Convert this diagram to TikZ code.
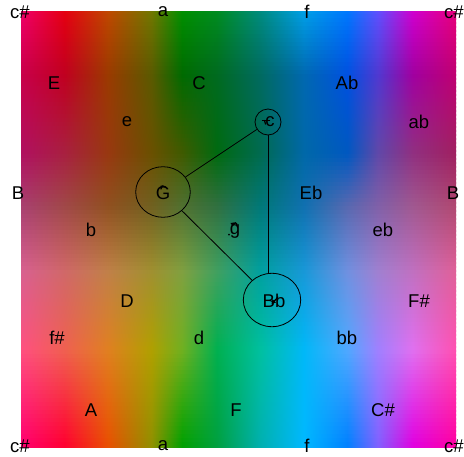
\documentclass[tikz,border=0pt]{standalone}
\usepackage{fontspec}
\setmainfont{Liberation Sans}
\usetikzlibrary{shapes.geometric,arrows.meta}
\makeatletter
\newcount\bgcol
\newcommand\bgrowdef[2]{\bgcol=0 \def\bgrow{#1}\@for\bgh:=#2\do{\edef\bgtmp{\noexpand\definecolor{r\bgrow c\the\bgcol}{HTML}{\bgh}}\bgtmp\advance\bgcol by 1 }}
\makeatother
\bgrowdef{0}{F0006A,E60010,C04800,707800,009000,008C20,008C80,00A0E8,0078FF,6050FF,D000D0,E8007A}
\bgrowdef{1}{C8004A,C00020,9A3A00,5A5A00,006A00,006A20,006A60,0068B0,0050E0,5038D0,A000A0,C00070}
\bgrowdef{2}{B01060,A82040,983810,6A5000,405A00,006A10,006A50,0068A8,0058C0,6048A8,903080,A02060}
\bgrowdef{3}{A84070,A04848,905020,706020,507030,307040,007878,1070B0,5868B0,8060A8,A05890,B04870}
\bgrowdef{4}{D86090,D06868,C08048,A09030,80A040,40A060,00A0A0,1898D8,7090E0,A080D0,C070C0,E06098}
\bgrowdef{5}{FF5080,F06050,E08020,B0A000,70B020,00B050,00C0A0,00B8F8,50A8FF,A080FF,E070F0,FF50B0}
\bgrowdef{6}{FF0070,FF0030,E85000,909000,00A000,00A040,00B0B0,00B8FF,0080FF,8060FF,E000E0,FF00A0}
\newcommand\mixcols{%
  \colorlet{s0}{r\ka c0!\pp!r\kb c0}\colorlet{s1}{r\ka c1!\pp!r\kb c1}%
  \colorlet{s2}{r\ka c2!\pp!r\kb c2}\colorlet{s3}{r\ka c3!\pp!r\kb c3}%
  \colorlet{s4}{r\ka c4!\pp!r\kb c4}\colorlet{s5}{r\ka c5!\pp!r\kb c5}%
  \colorlet{s6}{r\ka c6!\pp!r\kb c6}\colorlet{s7}{r\ka c7!\pp!r\kb c7}%
  \colorlet{s8}{r\ka c8!\pp!r\kb c8}\colorlet{s9}{r\ka c9!\pp!r\kb c9}%
  \colorlet{s10}{r\ka c10!\pp!r\kb c10}\colorlet{s11}{r\ka c11!\pp!r\kb c11}}
\newcommand\stripshade[1]{\pgfdeclarehorizontalshading{strip#1}{100bp}{color(0bp)=(s0); color(25bp)=(s0); color(30bp)=(s1); color(35bp)=(s2); color(40bp)=(s3); color(43.5bp)=(s4); color(47.5bp)=(s5); color(52.5bp)=(s6); color(57.5bp)=(s7); color(62.5bp)=(s8); color(66bp)=(s9); color(70bp)=(s10); color(75bp)=(s11); color(100bp)=(s11)}}
\tikzset{
  lbl/.style={font=\fontsize{18.5}{22}\selectfont, inner sep=0pt},
  ring/.style={draw, ellipse, line width=0.8pt, inner sep=0pt},
  conn/.style={line width=0.8pt},
  tick/.style={line width=1.3pt, line cap=round}
}
\begin{document}
\begin{tikzpicture}[x=1pt,y=-1pt]
\useasboundingbox (0,0) rectangle (464,456);
% background
\foreach \i in {0,...,108}{
  \pgfmathsetmacro\yc{11+(\i+0.5)*4}
  \pgfmathtruncatemacro\ka{(\yc>76.4)+(\yc>154.9)+(\yc>207.2)+(\yc>272.6)+(\yc>351.1)}
  \pgfmathtruncatemacro\kb{\ka+1}
  \pgfmathsetmacro\ya{{11,76.4,154.9,207.2,272.6,351.1,447}[\ka]}
  \pgfmathsetmacro\yb{{11,76.4,154.9,207.2,272.6,351.1,447}[\kb]}
  \pgfmathsetmacro\pp{100*(\yb-\yc)/(\yb-\ya)}
  \pgfmathsetmacro\ytop{max(11,\yc-2.3)}
  \pgfmathsetmacro\ybot{min(447,\yc+2.3)}
  \mixcols
  \stripshade{\i}
  \fill[shading=strip\i] (21,\ytop) rectangle (456,\ybot);
}
% rings
\node[ring, minimum width=26pt, minimum height=26pt] (cR) at (268,122) {};
\node[ring, minimum width=54.6pt, minimum height=50.6pt] (GR) at (163,192) {};
\node[ring, minimum width=57.4pt, minimum height=53.4pt] (BbR) at (272,300) {};
\coordinate (bbtop) at (268,273.6);
\draw[conn] (cR) -- (GR);
\draw[conn] (GR) -- (BbR);
\draw[conn] (cR.south) -- (bbtop);
% labels
\node[lbl] (tl) at (20,12) {c\#};
\node[lbl] (ta) at (163,12) {a};
\node[lbl] (tf) at (307,12) {f};
\node[lbl] (tr) at (454,12) {c\#};
\node[lbl] (bl) at (20,446) {c\#};
\node[lbl] (ba) at (163,446) {a};
\node[lbl] (bf) at (307,446) {f};
\node[lbl] (br) at (454,446) {c\#};
\node[lbl] (nE) at (54,83) {E};
\node[lbl] (nC) at (199,83) {C};
\node[lbl] (nAb) at (347,83) {Ab};
\node[lbl] (ne) at (127,122) {e};
\node[lbl] (nc) at (270,122) {c};
\node[lbl] (nab) at (419,122) {ab};
\node[lbl] (nBl) at (18,193) {B};
\node[lbl] (nG) at (163,193) {G};
\node[lbl] (nEb) at (311,193) {Eb};
\node[lbl] (nBr) at (453,193) {B};
\node[lbl] (nb) at (91,230) {b};
\node[lbl] (ng) at (235,231) {g};
\node[lbl] (neb) at (383,230) {eb};
\node[lbl] (nD) at (127,301) {D};
\node[lbl] (nBb) at (274,301) {Bb};
\node[lbl] (nFs) at (419,301) {F\#};
\node[lbl] (nfs) at (57,338) {f\#};
\node[lbl] (nd) at (199,338) {d};
\node[lbl] (nbb) at (347,338) {bb};
\node[lbl] (nA) at (91,410) {A};
\node[lbl] (nF) at (236,410) {F};
\node[lbl] (nCs) at (383,410) {C\#};
% small marks
\draw[tick] (262.5,120.5) -- (269.5,120.5);
\draw[tick] (264.5,120.5) -- (265.5,124);
\draw[tick] (161,189) .. controls (161,185.5) and (164,185) .. (165.5,187);
\fill (160.5,185.5) -- (163.5,186) -- (161,189) -- cycle;
\draw[tick] (232.5,225.5) .. controls (234,221.5) and (237,222.5) .. (237,225.5);
\fill (230.5,223) -- (234,222.5) -- (232.5,226) -- cycle;
\fill (229,234.5) circle (1pt);
\draw[tick] (278,297) -- (273.5,302);
\fill (271.5,304) -- (272.5,299) -- (276,302.5) -- cycle;
\end{tikzpicture}
\end{document}
